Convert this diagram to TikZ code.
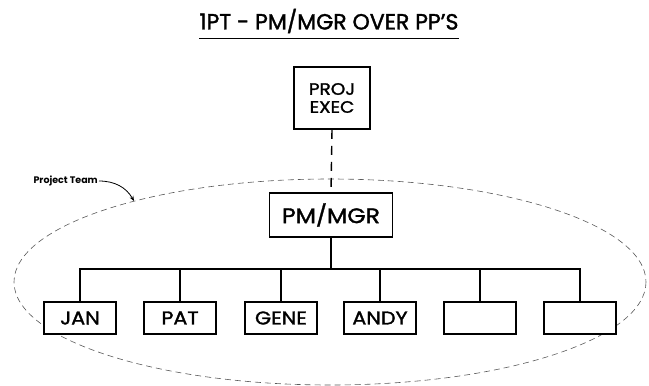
\documentclass[tikz,border=0pt]{standalone}
\usepackage{fontspec}
\setmainfont{Poppins}
\newfontfamily\hv{Poppins}[FakeBold=1.6,FakeStretch=1.12]
\newfontfamily\hvt{Poppins}[FakeBold=1.6]
\usetikzlibrary{arrows.meta}
\begin{document}
\begin{tikzpicture}[x=1pt,y=-1pt,
  box/.style={draw=black,line width=1.6pt,fill=white,inner sep=0pt,minimum height=32pt,minimum width=72pt,font=\hv\fontsize{18.5}{18.5}\selectfont},
  conn/.style={draw=black,line width=1.4pt},
  team/.style={draw=black!65,line width=0.6pt,dash pattern=on 6pt off 4pt}]
\useasboundingbox (0,0) rectangle (649,386);
% title
\node[font=\hvt\fontsize{22}{22}\selectfont,inner sep=0pt] (title) at (329,21) {1PT - PM/MGR OVER PP’S};
\draw[line width=1.4pt] (title.south west) ++(0,5) coordinate (ul1) -- (title.south east |- ul1) coordinate (ul2);
% ellipse
\draw[team] (330,282) ellipse [x radius=316, y radius=103];
% nodes
\node[box,minimum width=76pt,minimum height=62pt,align=center,font=\hv\fontsize{16.5}{18}\selectfont] (exec) at (332,98) {PROJ\\EXEC};
\node[box,minimum width=123pt,minimum height=44pt,font=\hv\fontsize{21}{21}\selectfont] (pm) at (331,215) {PM/MGR};
\node[box] (jan) at (80,318) {JAN};
\node[box] (pat) at (180,318) {PAT};
\node[box] (gene) at (281,318) {GENE};
\node[box] (andy) at (380,318) {ANDY};
\node[box] (b5) at (480,318) {};
\node[box] (b6) at (580,318) {};
% connectors
\draw[conn,dash pattern=on 9pt off 7pt] (exec.south) -- (pm.north);
\coordinate (bus) at (331,269);
\draw[conn] (pm.south) -- (bus);
\draw[conn] (jan.north) |- (bus) -| (b6.north);
\foreach \n in {pat,gene,andy,b5} \draw[conn] (\n.north) -- (\n.north |- bus);
% project team label
\node[font=\bfseries\fontsize{9.5}{10}\selectfont,inner sep=1pt,anchor=east] (lbl) at (99,181) {Project Team};
\coordinate (tip) at (134,201);
\draw[line width=0.8pt,-{Stealth[length=5pt,width=4pt]}] (lbl.east) to[out=0,in=120] (tip);
\end{tikzpicture}
\end{document}
